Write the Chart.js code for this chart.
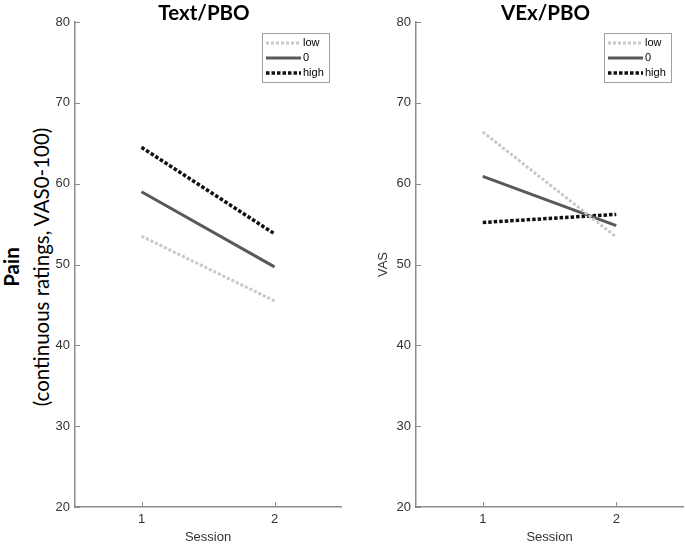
<!DOCTYPE html>
<html>
<head>
<meta charset="utf-8">
<script src="https://cdn.jsdelivr.net/npm/chart.js@4"></script>
<style>
  html, body { margin: 0; padding: 0; background: #fff; }
  #wrap { position: relative; width: 685px; height: 545px; overflow: hidden; }
  .panel { position: absolute; top: 0; height: 545px; }
  #ylab {
    position: absolute; left: -174px; top: 237px; width: 400px; height: 60px;
    transform: rotate(-90deg); transform-origin: center;
    text-align: center; line-height: 30px; color: #000;
    font-family: Lato, "Open Sans", sans-serif; font-size: 20.5px;
  }
  #ylab b { font-weight: 700; }
</style>
</head>
<body>
<div id="wrap">
  <div id="ylab"><b>Pain</b><br>(continuous ratings, VAS0-100)</div>
  <div class="panel" style="left:0;width:342px"><canvas id="textChart"></canvas></div>
  <div class="panel" style="left:342px;width:343px"><canvas id="vexChart"></canvas></div>
</div>
<script>
// ---- data ----
const sessions = ['1', '2'];
const seriesNames = ['low', '0', 'high'];

const textLow  = [53.5, 45.5];
const textZero = [59.0, 49.7];
const textHigh = [64.5, 53.8];

const vexLow  = [66.4, 53.4];
const vexZero = [60.9, 54.8];
const vexHigh = [55.2, 56.2];

const yMin = 20, yMax = 80, yStep = 10;

const AXIS_COLOR = '#8c8c8c';
const TEXT_COLOR = '#333333';
const FONT = 'Liberation Sans, Arial, sans-serif';
const styles = [
  { color: '#c8c8c8', width: 3,   dash: [3, 2] },
  { color: '#595959', width: 3,   dash: [] },
  { color: '#111111', width: 3.5, dash: [3.5, 2] }
];

// inward tick marks, MATLAB style
const inwardTicks = {
  id: 'inwardTicks',
  afterDraw(chart) {
    const { ctx, chartArea, scales } = chart;
    ctx.save();
    ctx.strokeStyle = AXIS_COLOR;
    ctx.lineWidth = 1;
    scales.y.ticks.forEach((t, i) => {
      const y = Math.round(scales.y.getPixelForTick(i)) + 0.5;
      ctx.beginPath();
      ctx.moveTo(chartArea.left, y);
      ctx.lineTo(chartArea.left + 5, y);
      ctx.stroke();
    });
    scales.x.ticks.forEach((t, i) => {
      const x = Math.round(scales.x.getPixelForTick(i)) + 0.5;
      ctx.beginPath();
      ctx.moveTo(x, chartArea.bottom);
      ctx.lineTo(x, chartArea.bottom - 5);
      ctx.stroke();
    });
    ctx.restore();
  }
};

// panel title centred over the axes
const panelTitle = {
  id: 'panelTitle',
  afterDraw(chart, args, opts) {
    const { ctx, chartArea } = chart;
    ctx.save();
    ctx.font = 'bold 20.5px Lato, "Open Sans", sans-serif';
    ctx.fillStyle = '#000';
    ctx.textAlign = 'center';
    ctx.textBaseline = 'middle';
    ctx.fillText(opts.text, (chartArea.left + chartArea.right) / 2 - 4, 13);
    ctx.restore();
  }
};

// boxed legend in the top-right corner, drawn from the datasets' own styles
const boxLegend = {
  id: 'boxLegend',
  afterDraw(chart) {
    const { ctx, chartArea } = chart;
    const w = 67, h = 49;
    const left = chartArea.right - 12 - w;
    const top = chartArea.top + 11;
    ctx.save();
    ctx.fillStyle = '#fff';
    ctx.fillRect(left, top, w, h);
    ctx.strokeStyle = '#a0a0a0';
    ctx.lineWidth = 1;
    ctx.strokeRect(left + 0.5, top + 0.5, w, h);
    ctx.font = '11px ' + FONT;
    ctx.textBaseline = 'middle';
    chart.data.datasets.forEach((ds, i) => {
      const y = top + 10 + i * 15;
      ctx.beginPath();
      ctx.strokeStyle = ds.borderColor;
      ctx.lineWidth = ds.borderWidth;
      ctx.setLineDash(ds.borderDash);
      ctx.moveTo(left + 4, y);
      ctx.lineTo(left + 39, y);
      ctx.stroke();
      ctx.setLineDash([]);
      ctx.fillStyle = '#000';
      ctx.fillText(ds.label, left + 41, y);
    });
    ctx.restore();
  }
};

function makeDatasets(values) {
  return values.map((v, i) => ({
    label: seriesNames[i],
    data: v,
    borderColor: styles[i].color,
    borderWidth: styles[i].width,
    borderDash: styles[i].dash,
    borderCapStyle: 'butt',
    pointRadius: 0,
    fill: false,
    tension: 0
  }));
}

function makeChart(canvasId, title, values, yWidth, yTitle, padRight) {
  return new Chart(document.getElementById(canvasId), {
    type: 'line',
    data: { labels: sessions, datasets: makeDatasets(values) },
    plugins: [inwardTicks, panelTitle, boxLegend],
    options: {
      responsive: true,
      maintainAspectRatio: false,
      animation: false,
      layout: { padding: { top: 22, right: padRight, left: 0, bottom: 0 } },
      plugins: {
        legend: { display: false },
        tooltip: { enabled: false },
        panelTitle: { text: title }
      },
      scales: {
        x: {
          type: 'category',
          offset: true,
          grid: { display: false, drawTicks: false },
          border: { display: true, color: AXIS_COLOR, width: 1.5 },
          ticks: {
            color: TEXT_COLOR, padding: 5, maxRotation: 0,
            font: { family: FONT, size: 13 }
          },
          title: {
            display: true, text: 'Session', color: TEXT_COLOR,
            padding: { top: 0, bottom: 0 },
            font: { family: FONT, size: 13 }
          },
          afterFit(scale) { scale.height = 38; }
        },
        y: {
          min: yMin,
          max: yMax,
          grid: { display: false, drawTicks: false },
          border: { display: true, color: AXIS_COLOR, width: 1.5 },
          ticks: {
            stepSize: yStep, color: TEXT_COLOR, padding: 5,
            font: { family: FONT, size: 13 }
          },
          title: {
            display: !!yTitle, text: yTitle || '', color: TEXT_COLOR,
            padding: { top: 34, bottom: 0 },
            font: { family: FONT, size: 13 }
          },
          afterFit(scale) { scale.width = yWidth; }
        }
      }
    }
  });
}

makeChart('textChart', 'Text/PBO', [textLow, textZero, textHigh], 75, null, 1);
makeChart('vexChart', 'VEx/PBO', [vexLow, vexZero, vexHigh], 74, 'VAS', 2);
</script>
</body>
</html>
